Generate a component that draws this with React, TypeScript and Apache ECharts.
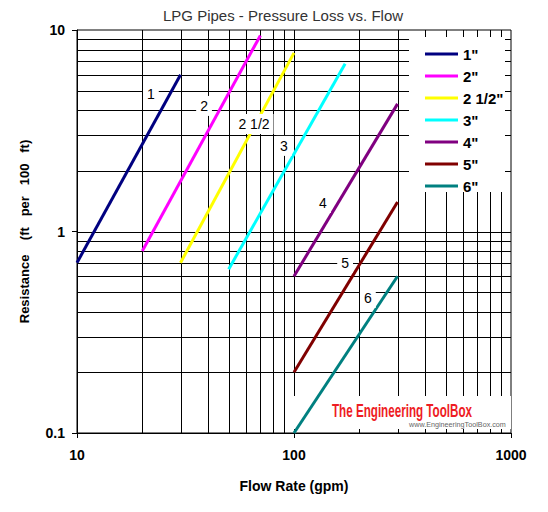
import React, { useEffect, useRef } from "react";
import * as echarts from "echarts";

const FONT = '"Liberation Sans", Arial, sans-serif';

const pipeNames = ['1"', '2"', '2 1/2"', '3"', '4"', '5"', '6"'];
const pipeColors = ["#000080", "#ff00ff", "#ffff00", "#00ffff", "#800080", "#800000", "#008080"];

// [flow gpm, resistance ft/100ft] end points of each line
const pipe1 = [[10, 0.7], [30, 6]];
const pipe2 = [[20, 0.8], [70, 9.4]];
const pipe25 = [[30, 0.7], [100, 7.7]];
const pipe3 = [[50, 0.65], [172, 6.8]];
const pipe4 = [[100, 0.6], [300, 4.3]];
const pipe5 = [[100, 0.2], [300, 1.4]];
const pipe6 = [[100, 0.1], [300, 0.6]];
const pipeData = [pipe1, pipe2, pipe25, pipe3, pipe4, pipe5, pipe6];

const curveLabels = ["1", "2", "2 1/2", "3", "4", "5", "6"];
const labelFlow = [21.9, 38.5, 65.4, 89.9, 136, 172, 219];
const labelRes = [4.84, 4.2, 3.42, 2.66, 1.385, 0.698, 0.468];

const xGrid = [20, 30, 40, 50, 60, 70, 80, 90, 100, 200, 300, 400, 500, 600, 700, 800, 900];
const yGrid = [0.2, 0.3, 0.4, 0.5, 0.6, 0.7, 0.8, 0.9, 1, 2, 3, 4, 5, 6, 7, 8, 9];

const X_MIN = 10, X_MAX = 1000, Y_MIN = 0.1, Y_MAX = 10;

export default function App() {
  const ref = useRef<HTMLDivElement>(null);
  useEffect(() => {
    if (!ref.current) return;
    const chart = echarts.init(ref.current, undefined, { renderer: "svg" });
    const crisp = (v: number) => Math.round(v) + 0.5;

    const lineSeries = pipeNames.map((name, i) => ({
      name,
      type: "line",
      data: pipeData[i],
      showSymbol: false,
      symbol: "none",
      z: 3,
      itemStyle: { color: pipeColors[i] },
      lineStyle: { color: pipeColors[i], width: 3 },
    }));

    const baseGraphic: any[] = [
      {
        type: "rect",
        z: 1,
        shape: { x: 409, y: 37, width: 96, height: 155 },
        style: { fill: "#fff" },
      },
      {
        type: "rect",
        z: 1,
        shape: { x: 290, y: 396, width: 221, height: 33 },
        style: { fill: "#fff" },
      },
      {
        type: "text",
        z: 5,
        x: 332,
        y: 410,
        scaleX: 0.647,
        style: {
          text: "The Engineering ToolBox",
          font: `bold 18px ${FONT}`,
          fill: "#ee1c24",
          align: "left",
          verticalAlign: "middle",
        },
      },
      {
        type: "text",
        z: 5,
        x: 409,
        y: 424,
        scaleX: 0.9,
        style: {
          text: "www.EngineeringToolBox.com",
          font: `8px ${FONT}`,
          fill: "#666",
          align: "left",
          verticalAlign: "middle",
        },
      },
    ];

    const option: any = {
      animation: false,
      title: {
        text: "LPG Pipes - Pressure Loss vs. Flow",
        left: 158,
        top: 3,
        textStyle: { fontFamily: FONT, fontSize: 15, fontWeight: "normal", color: "#333" },
      },
      grid: {
        left: 77,
        right: 37,
        top: 30,
        bottom: 79,
        show: true,
        borderColor: "#000",
        borderWidth: 1,
        backgroundColor: "transparent",
      },
      legend: {
        data: pipeNames,
        orient: "vertical",
        left: 420,
        top: 39,
        itemWidth: 33,
        itemHeight: 3,
        itemGap: 2,
        icon: "rect",
        selectedMode: false,
        textStyle: { fontFamily: FONT, fontSize: 15, fontWeight: "bold", color: "#000", lineHeight: 20 },
      },
      xAxis: {
        type: "log",
        logBase: 10,
        min: X_MIN,
        max: X_MAX,
        name: "Flow Rate (gpm)",
        nameLocation: "middle",
        nameGap: 46,
        nameTextStyle: { fontFamily: FONT, fontSize: 14, fontWeight: "bold", color: "#000" },
        axisLine: { lineStyle: { color: "#000", width: 1 } },
        axisTick: { show: true, length: 5, lineStyle: { color: "#000" } },
        axisLabel: {
          fontFamily: FONT,
          fontSize: 14,
          fontWeight: "bold",
          color: "#000",
          margin: 15,
          formatter: (v: number) => String(Math.round(v)),
        },
        splitLine: { show: false },
      },
      yAxis: {
        type: "log",
        logBase: 10,
        min: Y_MIN,
        max: Y_MAX,
        name: "Resistance    (ft   per   100   ft)",
        nameLocation: "middle",
        nameGap: 46,
        nameTextStyle: { fontFamily: FONT, fontSize: 13, fontWeight: "bold", color: "#000" },
        axisLine: { lineStyle: { color: "#000", width: 1 } },
        axisTick: { show: true, length: 5, lineStyle: { color: "#000" } },
        axisLabel: {
          fontFamily: FONT,
          fontSize: 14,
          fontWeight: "bold",
          color: "#000",
          margin: 12,
          formatter: (v: number) => (v < 1 ? String(Math.round(v * 10) / 10) : String(Math.round(v))),
        },
        splitLine: { show: false },
      },
      graphic: baseGraphic,
      series: [
        {
          type: "custom",
          name: "gridV",
          z: 0,
          silent: true,
          data: xGrid.map((v) => [v, 1]),
          renderItem: (_p: any, api: any) => {
            const v = api.value(0);
            const a = api.coord([v, Y_MIN]);
            const b = api.coord([v, Y_MAX]);
            const x = crisp(a[0]);
            return {
              type: "line",
              shape: { x1: x, y1: a[1], x2: x, y2: b[1] },
              style: { stroke: "#000", lineWidth: 1 },
            };
          },
        },
        {
          type: "custom",
          name: "gridH",
          z: 0,
          silent: true,
          data: yGrid.map((v) => [X_MIN * 2, v]),
          renderItem: (_p: any, api: any) => {
            const v = api.value(1);
            const a = api.coord([X_MIN, v]);
            const b = api.coord([X_MAX, v]);
            const y = crisp(a[1]);
            return {
              type: "line",
              shape: { x1: a[0], y1: y, x2: b[0], y2: y },
              style: { stroke: "#000", lineWidth: 1 },
            };
          },
        },
        ...lineSeries,
      ],
    };
    chart.setOption(option);

    const labelGraphic = curveLabels.map((t, i) => {
      const p = chart.convertToPixel({ gridIndex: 0 }, [labelFlow[i], labelRes[i]]) as number[];
      return {
        type: "text",
        z: 6,
        x: p[0],
        y: p[1],
        style: {
          text: t,
          font: `14px ${FONT}`,
          fill: "#000",
          align: "center",
          verticalAlign: "middle",
          backgroundColor: "#fff",
          padding: [3, 4],
        },
      };
    });
    option.graphic = [...baseGraphic, ...labelGraphic];
    chart.setOption(option, true);
    return () => chart.dispose();
  }, []);
  return (
    <div
      ref={ref}
      style={{ position: "absolute", left: 0, top: 0, width: 548, height: 512, background: "#fff" }}
    />
  );
}
